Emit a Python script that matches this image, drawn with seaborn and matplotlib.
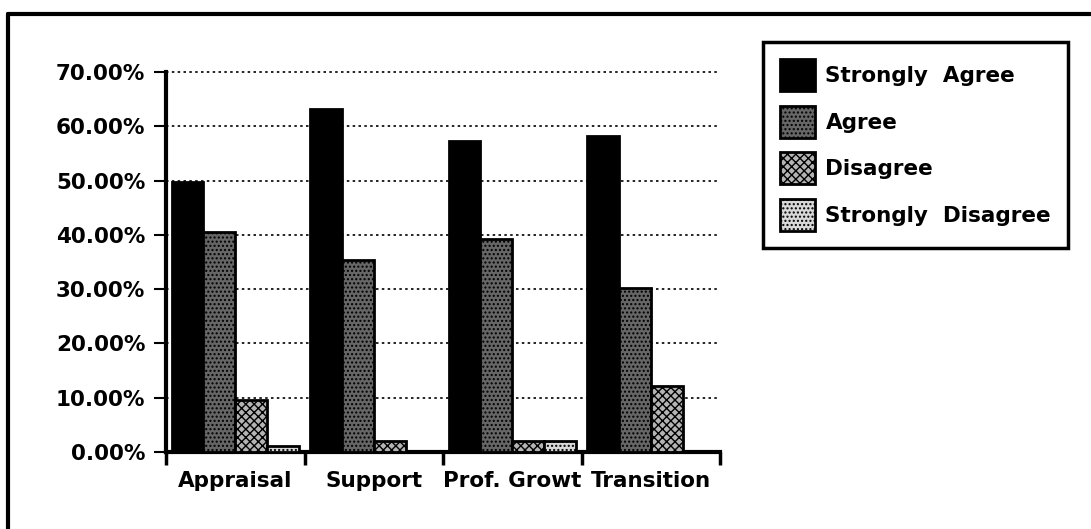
import matplotlib
matplotlib.use("Agg")
import matplotlib.pyplot as plt
from matplotlib.lines import Line2D
from matplotlib.ticker import FixedLocator, FuncFormatter
import seaborn as sns
import pandas as pd

# Survey responses per topic (percent of respondents)
categories = ["Appraisal", "Support", "Prof. Growt", "Transition"]
responses = ["Strongly  Agree", "Agree", "Disagree", "Strongly  Disagree"]
strongly_agree = [49.7, 63.1, 57.3, 58.2]
agree = [40.6, 35.4, 39.3, 30.3]
disagree = [9.6, 2.1, 2.1, 12.2]
strongly_disagree = [1.1, 0.0, 2.1, 0.0]
y_ticks = [0, 10, 20, 30, 40, 50, 60, 70]

series = [strongly_agree, agree, disagree, strongly_disagree]
df = pd.DataFrame(
    [(c, r, v) for r, vals in zip(responses, series) for c, v in zip(categories, vals)],
    columns=["topic", "response", "percent"],
)

sns.set_theme(style="white")
plt.rcParams["font.family"] = ["DejaVu Sans"]
plt.rcParams["hatch.linewidth"] = 1.0
plt.rcParams["text.color"] = "black"

W, H = 1091, 529
fig = plt.figure(figsize=(W / 100, H / 100), dpi=100)
ax = fig.add_axes([166 / W, 1 - 452 / H, (720 - 166) / W, (452 - 72) / H])

fills = ["#000000", "#666666", "#b4b4b4", "#d8d8d8"]
hatches = [None, "....", "xxxx", "...."]

sns.barplot(
    data=df, x="topic", y="percent", hue="response", order=categories,
    hue_order=responses, palette=fills, width=0.92, gap=0,
    edgecolor="black", linewidth=2.0, saturation=1, ax=ax, zorder=3,
)

for cont, h in zip(ax.containers, hatches):
    for bar in cont:
        bar.set_edgecolor("black")
        if h:
            bar.set_hatch(h)

ax.set_xlim(-0.5, len(categories) - 0.5)
ax.set_ylim(0, 70)
ax.set_xlabel("")
ax.set_ylabel("")

# dotted horizontal gridlines behind the bars
ax.yaxis.set_major_locator(FixedLocator(y_ticks))
ax.yaxis.set_major_formatter(FuncFormatter(lambda v, p: f"{v:.2f}%"))
ax.grid(axis="y", linestyle=(0, (1.5, 2.0)), color="black", linewidth=1.2, zorder=0)
ax.grid(axis="x", visible=False)
for gl in ax.get_ygridlines():
    gl.set_clip_on(False)
ax.set_axisbelow(True)

# category boundaries carry the x ticks; labels sit at category centres
ax.set_xticks(range(len(categories)))
ax.set_xticklabels(categories)
ax.tick_params(axis="x", which="major", length=0, pad=14)
ax.set_xticks([i - 0.5 for i in range(len(categories) + 1)], minor=True)
ax.tick_params(axis="x", which="minor", length=9, width=2.5, color="black",
               direction="out", bottom=True)
ax.tick_params(axis="y", which="major", length=9, width=1.5, color="black",
               direction="out", left=True, pad=6)

for lab in ax.get_xticklabels() + ax.get_yticklabels():
    lab.set_fontsize(15.5)
    lab.set_fontweight("bold")
    lab.set_color("black")

for side in ["top", "right"]:
    ax.spines[side].set_visible(False)
for side in ["left", "bottom"]:
    ax.spines[side].set_color("black")
    ax.spines[side].set_linewidth(3)

handles, labels = ax.get_legend_handles_labels()
for hd, h in zip(handles, hatches):
    hd.set_edgecolor("black")
    hd.set_linewidth(2.0)
    if h:
        hd.set_hatch(h)
leg = ax.legend(
    handles, labels, loc="upper left",
    bbox_to_anchor=(763 / W, 1 - 42 / H), bbox_transform=fig.transFigure,
    borderaxespad=0, fancybox=False, framealpha=1, edgecolor="black",
    prop={"size": 15.5, "weight": "bold"}, handlelength=1.63, handleheight=1.9,
    handletextpad=0.47, labelspacing=0.68, borderpad=0.8,
)
leg.get_frame().set_linewidth(2.5)
for t in leg.get_texts():
    t.set_color("black")

# page frame: top and left edges
fig.add_artist(Line2D([8 / W, 1.0], [1 - 14 / H, 1 - 14 / H],
                      transform=fig.transFigure, color="black", linewidth=3))
fig.add_artist(Line2D([8 / W, 8 / W], [0.0, 1 - 14 / H],
                      transform=fig.transFigure, color="black", linewidth=3))

fig.savefig("out.png", dpi=100, facecolor="white")
